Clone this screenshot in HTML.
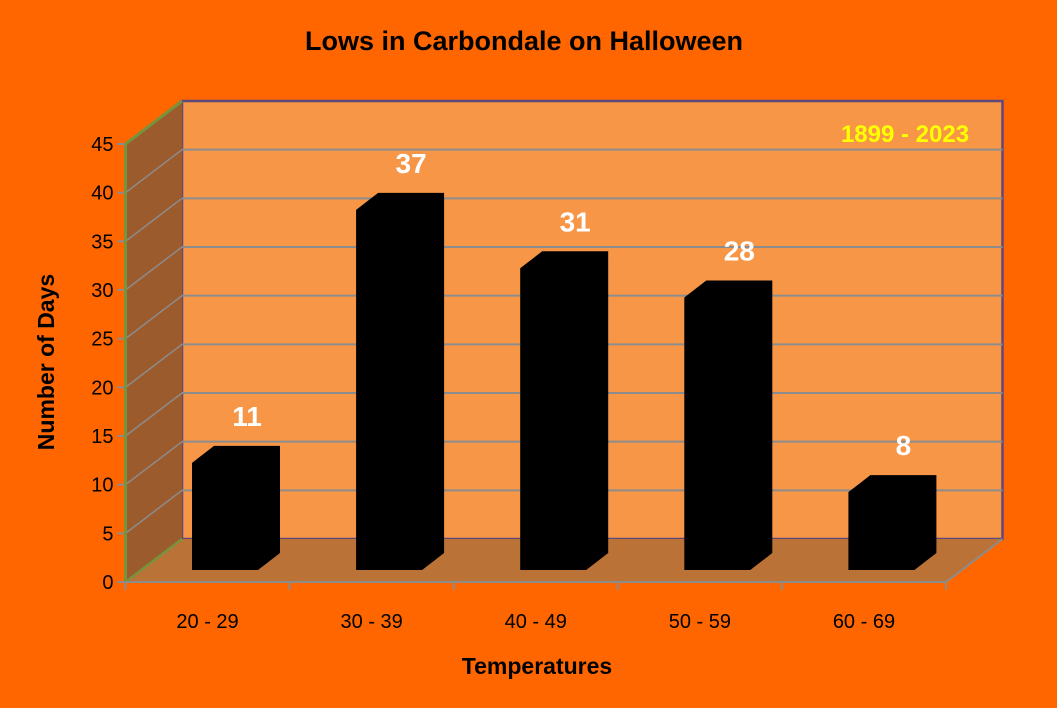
<!DOCTYPE html>
<html><head><meta charset="utf-8"><style>
body{margin:0;background:#FF6600;}
svg{display:block;font-family:"Liberation Sans",sans-serif;}
</style></head><body>
<svg id="c" width="1057" height="708">
<rect x="0" y="0" width="1057" height="708" fill="#FF6600"/>
<text x="524" y="50" text-anchor="middle" font-size="27" font-weight="bold" fill="#000">Lows in Carbondale on Halloween</text>
<g id="plot"></g>
<text x="905" y="142" text-anchor="middle" font-size="24" font-weight="bold" fill="#FFFF00">1899 - 2023</text>
<text x="537" y="674" text-anchor="middle" font-size="23" font-weight="bold" fill="#000">Temperatures</text>
<text transform="translate(54,362) rotate(-90)" text-anchor="middle" font-size="23" font-weight="bold" fill="#000">Number of Days</text>
</svg>
<script>
const categories = ["20 - 29","30 - 39","40 - 49","50 - 59","60 - 69"];
const values = [11,37,31,28,8];
const yTicks = [0,5,10,15,20,25,30,35,40,45];
const yMax = 45;

const NS="http://www.w3.org/2000/svg";
const g=document.getElementById('plot');
const X0=125.5, X1=946, Y0=582, Ytop=144, DX=56.5, DY=-43;
const yS=v=>Y0-(v/yMax)*(Y0-Ytop);
const catW=(X1-X0)/categories.length;
function mk(tag,attrs){const e=document.createElementNS(NS,tag);for(const k in attrs)e.setAttribute(k,attrs[k]);g.appendChild(e);return e;}
// back wall
let e=mk('rect',{x:X0+DX,y:Ytop+DY,width:X1-X0,height:Y0-Ytop,fill:'#F79646',stroke:'#5F497A','stroke-width':2.5});


// side wall
e=mk('polygon',{points:`${X0},${Y0} ${X0+DX},${Y0+DY} ${X0+DX},${Ytop+DY} ${X0},${Ytop}`,fill:'#9C5B2D'});


// floor
e=mk('polygon',{points:`${X0},${Y0} ${X1},${Y0} ${X1+DX},${Y0+DY} ${X0+DX},${Y0+DY}`,fill:'#BB7236'});


// gridlines
yTicks.forEach(t=>{
  const y=yS(t);
  if(t>0&&t<yMax){
    let l=mk('line',{x1:X0+DX,y1:y+DY,x2:X1+DX,y2:y+DY,stroke:'#8C8C8C','stroke-width':2});
    
    
  }
  if(t>0){
    let s=mk('line',{x1:X0,y1:y,x2:X0+DX,y2:y+DY,stroke:'#8C8C8C','stroke-width':1.5});
    
    
  }
  let tk=mk('line',{x1:X0-8,y1:y,x2:X0,y2:y,stroke:'#8C8C8C','stroke-width':2});
  
  
  let tx=mk('text',{x:X0-12,y:y+7,'text-anchor':'end','font-size':20,fill:'#000'});
  tx.textContent=t;
  
  
});
// borders
e=mk('polyline',{points:`${X0},${Y0} ${X0},${Ytop} ${X0+DX},${Ytop+DY}`,fill:'none',stroke:'#77933C','stroke-width':3});


e=mk('line',{x1:X0,y1:Y0,x2:X0+DX,y2:Y0+DY,stroke:'#77933C','stroke-width':2.5});


e=mk('polyline',{points:`${X0},${Y0} ${X1},${Y0} ${X1+DX},${Y0+DY}`,fill:'none',stroke:'#8C8C8C','stroke-width':2});


for(let i=0;i<=categories.length;i++){
  let t=mk('line',{x1:X0+i*catW,y1:Y0,x2:X0+i*catW,y2:Y0+8,stroke:'#8C8C8C','stroke-width':2});
  
  
}
// bars
const bw=66, bdx=22, bdy=-17, base=570;
const hS=v=>(v/yMax)*(Y0-Ytop);
categories.forEach((c,i)=>{
  const x=X0+i*catW+66.5, top=base-hS(values[i]);
  let b=mk('polygon',{points:`${x},${base} ${x},${top} ${x+bdx},${top+bdy} ${x+bw+bdx},${top+bdy} ${x+bw+bdx},${base+bdy} ${x+bw},${base}`,fill:'#000'});
  
  
  let l=mk('text',{x:x+bw/2+bdx,y:top+bdy-20,'text-anchor':'middle','font-size':28,'font-weight':'bold',fill:'#fff'});
  l.textContent=values[i];
  
  
  let xl=mk('text',{x:X0+(i+0.5)*catW,y:628,'text-anchor':'middle','font-size':20,fill:'#000'});
  xl.textContent=c;
  
  
});
</script>
</body></html>
